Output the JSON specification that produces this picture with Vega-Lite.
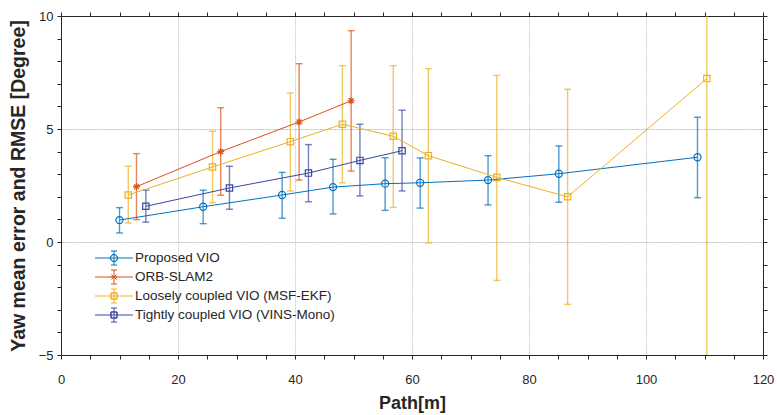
{
  "$schema": "https://vega.github.io/schema/vega-lite/v6.json",
  "width": 702,
  "height": 339,
  "autosize": {"type": "none"},
  "padding": {"left": 61, "top": 16, "right": 14, "bottom": 60},
  "background": "white",
  "config": {
    "view": {"stroke": null},
    "font": "Liberation Sans",
    "axis": {"labelFont": "Liberation Sans", "titleFont": "Liberation Sans", "labelColor": "#262626", "titleColor": "#262626", "domainColor": "#262626", "tickColor": "#262626", "labelFontSize": 13, "titleFontSize": 18, "titleFontWeight": "bold", "tickSize": 4, "domainWidth": 1, "tickWidth": 1},
    "legend": {"labelFont": "Liberation Sans", "labelFontSize": 13.5, "labelColor": "#262626", "labelLimit": 400, "symbolSize": 196, "symbolStrokeWidth": 1, "symbolFillColor": "transparent", "symbolOpacity": 1, "padding": 0, "rowPadding": 0, "labelOffset": 13.5}
  },
  "data": {"values": [
    {"series": "Proposed VIO", "x": 10.0, "y": 0.97, "lo": 0.40, "hi": 1.52},
    {"series": "Proposed VIO", "x": 24.3, "y": 1.56, "lo": 0.81, "hi": 2.29},
    {"series": "Proposed VIO", "x": 37.8, "y": 2.08, "lo": 1.05, "hi": 3.08},
    {"series": "Proposed VIO", "x": 46.5, "y": 2.43, "lo": 1.24, "hi": 3.66},
    {"series": "Proposed VIO", "x": 55.4, "y": 2.58, "lo": 1.40, "hi": 3.73},
    {"series": "Proposed VIO", "x": 61.4, "y": 2.62, "lo": 1.50, "hi": 3.72},
    {"series": "Proposed VIO", "x": 73.0, "y": 2.74, "lo": 1.64, "hi": 3.82},
    {"series": "Proposed VIO", "x": 85.1, "y": 3.02, "lo": 1.76, "hi": 4.25},
    {"series": "Proposed VIO", "x": 108.8, "y": 3.75, "lo": 1.96, "hi": 5.52},
    {"series": "ORB-SLAM2", "x": 12.9, "y": 2.45, "lo": 0.99, "hi": 3.91},
    {"series": "ORB-SLAM2", "x": 27.3, "y": 4.00, "lo": 2.07, "hi": 5.94},
    {"series": "ORB-SLAM2", "x": 40.7, "y": 5.31, "lo": 2.74, "hi": 7.89},
    {"series": "ORB-SLAM2", "x": 49.6, "y": 6.25, "lo": 3.14, "hi": 9.35},
    {"series": "Loosely coupled VIO (MSF-EKF)", "x": 11.5, "y": 2.08, "lo": 0.84, "hi": 3.35},
    {"series": "Loosely coupled VIO (MSF-EKF)", "x": 25.9, "y": 3.32, "lo": 1.74, "hi": 4.90},
    {"series": "Loosely coupled VIO (MSF-EKF)", "x": 39.2, "y": 4.44, "lo": 2.26, "hi": 6.59},
    {"series": "Loosely coupled VIO (MSF-EKF)", "x": 48.1, "y": 5.21, "lo": 2.62, "hi": 7.80},
    {"series": "Loosely coupled VIO (MSF-EKF)", "x": 56.8, "y": 4.68, "lo": 1.53, "hi": 7.80},
    {"series": "Loosely coupled VIO (MSF-EKF)", "x": 62.8, "y": 3.82, "lo": -0.04, "hi": 7.67},
    {"series": "Loosely coupled VIO (MSF-EKF)", "x": 74.5, "y": 2.86, "lo": -1.70, "hi": 7.37},
    {"series": "Loosely coupled VIO (MSF-EKF)", "x": 86.6, "y": 2.00, "lo": -2.76, "hi": 6.76},
    {"series": "Loosely coupled VIO (MSF-EKF)", "x": 110.4, "y": 7.23, "lo": -6.0, "hi": 20.5},
    {"series": "Tightly coupled VIO (VINS-Mono)", "x": 14.5, "y": 1.58, "lo": 0.88, "hi": 2.29},
    {"series": "Tightly coupled VIO (VINS-Mono)", "x": 28.8, "y": 2.39, "lo": 1.45, "hi": 3.35},
    {"series": "Tightly coupled VIO (VINS-Mono)", "x": 42.3, "y": 3.05, "lo": 1.78, "hi": 4.31},
    {"series": "Tightly coupled VIO (VINS-Mono)", "x": 51.1, "y": 3.61, "lo": 2.04, "hi": 5.21},
    {"series": "Tightly coupled VIO (VINS-Mono)", "x": 58.3, "y": 4.04, "lo": 2.26, "hi": 5.83}
  ]},
  "layer": [
    {
      "mark": {"type": "point", "filled": false, "opacity": 0, "size": 1},
      "encoding": {
        "x": {"field": "x", "type": "quantitative", "axis": null, "scale": {"domain": [0, 120], "nice": false, "zero": false}},
        "y": {"field": "y", "type": "quantitative", "axis": null, "scale": {"domain": [-5, 10], "nice": false, "zero": false}},
        "stroke": {"field": "series", "type": "nominal",
          "scale": {"domain": ["Proposed VIO", "ORB-SLAM2", "Loosely coupled VIO (MSF-EKF)", "Tightly coupled VIO (VINS-Mono)"],
            "range": ["#0072BD", "#D95319", "#EDB120", "#3A48A2"]},
          "legend": {"title": null, "orient": "none", "legendX": 45.5, "legendY": 234.5}},
        "shape": {"field": "series", "type": "nominal",
          "scale": {"domain": ["Proposed VIO", "ORB-SLAM2", "Loosely coupled VIO (MSF-EKF)", "Tightly coupled VIO (VINS-Mono)"],
            "range": [
              "M-2.714,0H2.714M0,-1V1M-0.43,-1H0.43M-0.43,1H0.43M0.5,0A0.5,0.5 0 1,1 -0.5,0A0.5,0.5 0 1,1 0.5,0A0.5,0.5 0 1,0 -0.5,0A0.5,0.5 0 1,0 0.5,0",
              "M-2.714,0H2.714M0,-1V1M-0.43,-1H0.43M-0.43,1H0.43M-0.5,0H0.5M-0.36,-0.36L0.36,0.36M-0.36,0.36L0.36,-0.36",
              "M-2.714,0H2.714M0,-1V1M-0.43,-1H0.43M-0.43,1H0.43M-0.43,-0.43H0.43V0.43H-0.43ZM-0.43,-0.43V0.43H0.43V-0.43Z",
              "M-2.714,0H2.714M0,-1V1M-0.43,-1H0.43M-0.43,1H0.43M-0.43,-0.43H0.43V0.43H-0.43ZM-0.43,-0.43V0.43H0.43V-0.43Z"]},
          "legend": {"title": null, "orient": "none", "legendX": 45.5, "legendY": 234.5}}
      }
    },
    {
      "mark": {"type": "rule", "strokeWidth": 1.4, "opacity": 0.7, "clip": true},
      "encoding": {
        "x": {"field": "x", "type": "quantitative",
          "axis": {"orient": "bottom", "title": "Path[m]", "values": [0,5,10,15,20,25,30,35,40,45,50,55,60,65,70,75,80,85,90,95,100,105,110,115,120],
            "labelExpr": "datum.value % 20 === 0 ? datum.label : ''", "labelPadding": 14, "titlePadding": 8, "titleFontSize": 18, "labelFlush": false, "labelOverlap": false,
            "grid": true, "gridColor": "#cfcfcf", "gridDash": [2, 1],
            "gridOpacity": {"condition": {"test": "datum.value % 20 === 0 && datum.value > 0 && datum.value < 120", "value": 1}, "value": 0}}},
        "y": {"field": "lo", "type": "quantitative",
          "axis": {"orient": "left", "title": "Yaw mean error and RMSE [Degree]", "values": [-5,-4,-3,-2,-1,0,1,2,3,4,5,6,7,8,9,10],
            "labelExpr": "datum.value % 5 === 0 ? datum.label : ''", "labelPadding": 4, "titlePadding": 10, "titleFontSize": 19.5, "labelFlush": false, "labelOverlap": false,
            "grid": true, "gridColor": "#bdbdbd", "gridDash": [2, 1],
            "gridOpacity": {"condition": {"test": "datum.value === 0 || datum.value === 5", "value": 1}, "value": 0}}},
        "y2": {"field": "hi"},
        "color": {"field": "series", "type": "nominal", "legend": null,
          "scale": {"domain": ["Proposed VIO", "ORB-SLAM2", "Loosely coupled VIO (MSF-EKF)", "Tightly coupled VIO (VINS-Mono)"],
            "range": ["#0072BD", "#D95319", "#EDB120", "#3A48A2"]}}
      }
    },
    {
      "mark": {"type": "tick", "orient": "horizontal", "size": 7, "thickness": 1.4, "opacity": 0.7, "clip": true},
      "encoding": {
        "x": {"field": "x", "type": "quantitative",
          "axis": {"orient": "top", "title": null, "labels": false, "grid": false, "values": [0,5,10,15,20,25,30,35,40,45,50,55,60,65,70,75,80,85,90,95,100,105,110,115,120]}},
        "y": {"field": "lo", "type": "quantitative",
          "axis": {"orient": "right", "title": null, "labels": false, "grid": false, "values": [-5,-4,-3,-2,-1,0,1,2,3,4,5,6,7,8,9,10]}},
        "color": {"field": "series", "type": "nominal", "legend": null}
      }
    },
    {
      "mark": {"type": "tick", "orient": "horizontal", "size": 7, "thickness": 1.4, "opacity": 0.7, "clip": true},
      "encoding": {
        "x": {"field": "x", "type": "quantitative", "axis": null},
        "y": {"field": "hi", "type": "quantitative", "axis": null},
        "color": {"field": "series", "type": "nominal", "legend": null}
      }
    },
    {
      "mark": {"type": "line", "strokeWidth": 1, "clip": true},
      "encoding": {
        "x": {"field": "x", "type": "quantitative", "axis": null},
        "y": {"field": "y", "type": "quantitative", "axis": null},
        "color": {"field": "series", "type": "nominal", "legend": null}
      }
    },
    {
      "transform": [{"filter": "datum.series === 'Proposed VIO'"}],
      "mark": {"type": "point", "shape": "circle", "filled": false, "size": 50, "strokeWidth": 1.2, "opacity": 1, "clip": true},
      "encoding": {
        "x": {"field": "x", "type": "quantitative", "axis": null},
        "y": {"field": "y", "type": "quantitative", "axis": null},
        "color": {"field": "series", "type": "nominal", "legend": null}
      }
    },
    {
      "transform": [{"filter": "datum.series === 'ORB-SLAM2'"}],
      "mark": {"type": "point", "shape": "M-1,0H1M0,-1V1M-0.7,-0.7L0.7,0.7M-0.7,0.7L0.7,-0.7", "filled": false, "size": 50, "strokeWidth": 1.2, "opacity": 1, "clip": true},
      "encoding": {
        "x": {"field": "x", "type": "quantitative", "axis": null},
        "y": {"field": "y", "type": "quantitative", "axis": null},
        "color": {"field": "series", "type": "nominal", "legend": null}
      }
    },
    {
      "transform": [{"filter": "datum.series !== 'Proposed VIO' && datum.series !== 'ORB-SLAM2'"}],
      "mark": {"type": "point", "shape": "square", "filled": false, "size": 40, "strokeWidth": 1.2, "opacity": 1, "clip": true},
      "encoding": {
        "x": {"field": "x", "type": "quantitative", "axis": null},
        "y": {"field": "y", "type": "quantitative", "axis": null},
        "color": {"field": "series", "type": "nominal", "legend": null}
      }
    }
  ],
  "resolve": {"axis": {"x": "independent", "y": "independent"}}
}
